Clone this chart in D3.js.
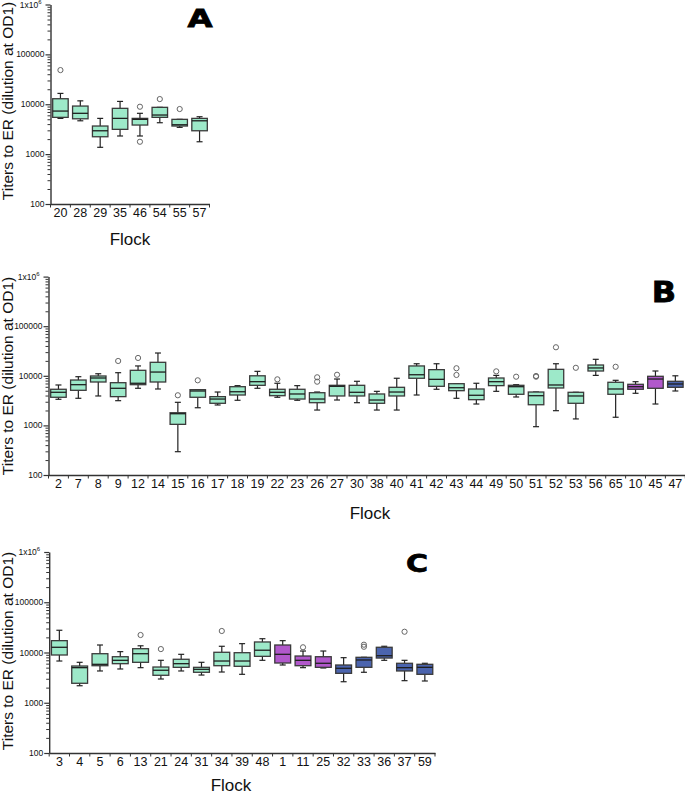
<!DOCTYPE html>
<html><head><meta charset="utf-8">
<script src="https://cdn.jsdelivr.net/npm/d3@7"></script>
<style>
html,body{margin:0;padding:0;background:#fff;}
svg{display:block;font-family:"Liberation Sans",Arial,sans-serif;}
</style></head>
<body>
<svg id="chart" width="685" height="795"></svg>
<script>
// ---------------- DATA ----------------
const yTickValues = [100, 1000, 10000, 100000, 1000000];
const yTickLabels = ["100", "1000", "10000", "100000", "1x10^6"];
const yTitle = "Titers to ER (dilution at OD1)";
const xTitle = "Flock";

// Panel A
const catsA = ["20","28","29","35","46","54","55","57"];
const groupA = ["g","g","g","g","g","g","g","g"];
const lowA  = [5210,4660,1370,2310,2310,4260,3440,1770];
const q1A   = [5460,5110,2230,3140,3830,5460,3660,2940];
const medA  = [7300,6580,2940,5210,4980,6080,3880,4660];
const q3A   = [12900,9200,3660,8280,5210,8670,4980,5210];
const highA = [16500,11700,5210,11400,6580,8670,4980,5620];
const outA  = [[48400],[],[],[],[8920,1770],[12700],[8020],[]];

// Panel B
const catsB = ["2","7","8","9","12","14","15","16","17","18","19","22","23","26","27","30","38","40","41","42","43","44","49","50","51","52","53","56","65","10","45","47"];
const groupB = ["g","g","g","g","g","g","g","g","g","g","g","g","g","g","g","g","g","g","g","g","g","g","g","g","g","g","g","g","g","p","p","b"];
const lowB  = [3360,3520,3920,3150,5600,5420,295,2270,2580,3210,5600,3690,3210,2040,3250,2870,2040,2040,4100,5350,3520,2700,4860,3740,942,1980,1350,10200,1460,4440,2700,4940];
const q1B   = [3690,5100,7500,3800,6620,7500,1050,3690,2790,4100,6430,3970,3400,2870,3920,3920,2790,3920,8920,6140,5010,3300,6330,4240,2610,5680,2790,12500,4240,5350,5600,5860];
const medB  = [4650,6620,9030,5600,7070,11900,1720,4940,3400,4770,7610,4650,4300,3400,6140,4650,3250,4710,10500,8490,5750,4050,7610,6030,3970,6530,3920,14400,5420,6030,8610,6840];
const q3B   = [5350,8220,9910,7260,12900,18700,1800,5250,3800,6030,10000,5350,5350,4560,6430,6430,4300,5860,15800,13300,6930,5420,9030,6430,4710,13500,4650,16500,7400,6740,9770,7750];
const highB = [6530,9590,11000,11550,15800,28800,2920,5250,4710,6330,12300,7070,6330,4710,8610,7750,4860,8920,17500,17500,6930,7070,10200,6620,4710,17500,4650,21500,8110,7610,12500,10000];
const outB  = [[],[],[],[19900],[22900],[],[4050],[8110],[],[],[],[8490],[],[9330,7610],[10500],[],[],[],[],[],[14200,10400],[],[12300],[9590],[9910,9590],[37600],[14500],[],[15200],[],[],[]];

// Panel C
const catsC = ["3","4","5","6","13","21","24","31","34","39","48","1","11","25","32","33","36","37","59"];
const groupC = ["g","g","g","g","g","g","g","g","g","g","g","p","p","p","b","b","b","b","b"];
const lowC  = [6770,2180,4290,4700,4990,2970,4290,3560,4090,3680,6990,5640,4990,4920,2620,4040,6990,2750,2710];
const q1C   = [8920,2440,5460,5990,6380,3520,5070,4040,5460,5310,8390,6180,5460,5070,3850,5070,7760,4290,3680];
const medC  = [12700,4990,5820,6990,9460,4430,5990,4630,6770,6770,11100,9200,6990,6100,4850,7100,8630,4990,5070];
const q3C   = [17200,5380,9460,8240,11900,5140,7330,5070,10100,9910,16200,14100,8510,8240,5640,8020,12700,6100,5820];
const highC = [27700,6380,14100,10400,13600,6990,9200,6380,13300,15000,18800,17200,10700,10700,7890,8020,13300,6990,6100];
const outC  = [[],[],[],[],[22300],[11700],[],[],[26800],[],[],[],[12700],[],[],[14300,13000],[],[25900],[]];

const groupColors = {g:"#9de9c9", p:"#b158cb", b:"#4b64ae"};

// ---------------- DRAW ----------------
const svg = d3.select("#chart");

function buildRows(cats, grp, lo, q1, md, q3, hi, out){
  return cats.map((c,i)=>({cat:c, group:grp[i], low:lo[i], q1:q1[i], med:md[i], q3:q3[i], high:hi[i], out:out[i]}));
}

function drawPanel(rows, L){
  const g = svg.append("g");
  const x = d3.scaleBand().domain(rows.map(d=>d.cat)).range([L.x0, L.x1]).paddingInner(0).paddingOuter(0);
  const y = d3.scaleLog().domain([100, 1000000]).range([L.yb, L.yt]);

  // minor y ticks
  const minor = [];
  for (let e=2; e<6; e++) for (let m=2; m<=9; m++) minor.push(m*Math.pow(10,e));
  g.append("g").attr("transform",`translate(${L.x0},0)`)
    .call(d3.axisLeft(y).tickValues(minor).tickSize(3).tickFormat(""))
    .call(s=>s.select(".domain").remove())
    .call(s=>s.selectAll("line").attr("stroke","#333").attr("stroke-width",1));

  const ya = g.append("g").attr("transform",`translate(${L.x0},0)`)
    .call(d3.axisLeft(y).tickValues(yTickValues).tickSize(5).tickSizeOuter(0).tickFormat(""));
  ya.select(".domain").attr("stroke","#333").attr("stroke-width",1.4);
  ya.selectAll("line").attr("stroke","#333").attr("stroke-width",1.2);
  yTickValues.forEach((v,i)=>{
    const t = g.append("text").attr("x", L.x0-6).attr("y", y(v)+3)
      .attr("text-anchor","end").attr("font-size",8.5).attr("fill","#111");
    const lab = yTickLabels[i];
    if (lab.includes("^")) {
      const [base, sup] = lab.split("^");
      t.attr("x", L.x0-9);
      t.append("tspan").text(base);
      t.append("tspan").attr("dy",-4).attr("font-size",6).text(sup);
    } else t.text(lab);
  });

  // x axis
  const xa = g.append("g").attr("transform",`translate(0,${L.yb})`)
    .call(d3.axisBottom(x).tickSize(0).tickPadding(0));
  xa.select(".domain").attr("stroke","#333").attr("stroke-width",1.4);
  xa.selectAll("text").remove();
  const bounds = rows.map(d=>x(d.cat)).concat([L.x1]);
  g.append("g").selectAll("line").data(bounds).join("line")
    .attr("x1",d=>d).attr("x2",d=>d).attr("y1",L.yb).attr("y2",L.yb+3.5)
    .attr("stroke","#333").attr("stroke-width",1);
  g.append("g").selectAll("text").data(rows).join("text")
    .attr("x",d=>x(d.cat)+x.bandwidth()/2).attr("y",L.yb+13)
    .attr("text-anchor","middle").attr("font-size",12.5).attr("fill","#111")
    .text(d=>d.cat);

  const bw = x.bandwidth()*0.78, cap = 6;
  const box = g.append("g").selectAll("g").data(rows).join("g")
    .attr("transform",d=>`translate(${x(d.cat)+x.bandwidth()/2},0)`);
  box.append("line").attr("x1",0).attr("x2",0).attr("y1",d=>y(d.high)).attr("y2",d=>y(d.q3))
    .attr("stroke","#222").attr("stroke-width",1.2);
  box.append("line").attr("x1",0).attr("x2",0).attr("y1",d=>y(d.q1)).attr("y2",d=>y(d.low))
    .attr("stroke","#222").attr("stroke-width",1.2);
  box.append("line").attr("x1",-cap/2).attr("x2",cap/2).attr("y1",d=>y(d.high)).attr("y2",d=>y(d.high))
    .attr("stroke","#222").attr("stroke-width",1.2);
  box.append("line").attr("x1",-cap/2).attr("x2",cap/2).attr("y1",d=>y(d.low)).attr("y2",d=>y(d.low))
    .attr("stroke","#222").attr("stroke-width",1.2);
  box.append("rect").attr("x",-bw/2).attr("width",bw)
    .attr("y",d=>y(d.q3)).attr("height",d=>Math.max(1,y(d.q1)-y(d.q3)))
    .attr("fill",d=>groupColors[d.group]).attr("stroke","#3a3a3a").attr("stroke-width",1.3);
  box.append("line").attr("x1",-bw/2).attr("x2",bw/2).attr("y1",d=>y(d.med)).attr("y2",d=>y(d.med))
    .attr("stroke","#1e1e1e").attr("stroke-width",1.3);
  box.selectAll("circle").data(d=>d.out).join("circle")
    .attr("cx",0).attr("cy",v=>y(v)).attr("r",2.6)
    .attr("fill","none").attr("stroke","#666").attr("stroke-width",1);

  // titles
  g.append("text").attr("transform",`translate(13,${L.ytitle}) rotate(-90)`)
    .attr("text-anchor","middle").attr("font-size",15.5).attr("fill","#111").text(yTitle);
  g.append("text").attr("x",L.xtitleX).attr("y",L.xtitleY)
    .attr("text-anchor","middle").attr("font-size",17).attr("fill","#111").text(xTitle);
  g.append("text").attr("transform",`translate(${L.letterX},${L.letterY}) scale(${L.letterSX},1)`)
    .attr("text-anchor","middle").attr("font-family","'DejaVu Sans',sans-serif").attr("font-weight",900)
    .attr("font-size",L.letterSize).attr("stroke","#000").attr("stroke-width",0.8).attr("fill","#000").text(L.letter);
}

drawPanel(buildRows(catsA,groupA,lowA,q1A,medA,q3A,highA,outA),
  {x0:50.5, x1:209.5, yb:204, yt:4.5, ytitle:101, xtitleX:130, xtitleY:245, letter:"A", letterX:200, letterY:27, letterSize:24, letterSX:1.35});
drawPanel(buildRows(catsB,groupB,lowB,q1B,medB,q3B,highB,outB),
  {x0:48.5, x1:685.3, yb:475, yt:276.6, ytitle:376, xtitleX:370, xtitleY:519, letter:"B", letterX:664, letterY:302, letterSize:29, letterSX:1.1});
drawPanel(buildRows(catsC,groupC,lowC,q1C,medC,q3C,highC,outC),
  {x0:49.2, x1:435, yb:753, yt:552, ytitle:651, xtitleX:231, xtitleY:791, letter:"C", letterX:417, letterY:572, letterSize:25, letterSX:1.2});
</script>
</body></html>
